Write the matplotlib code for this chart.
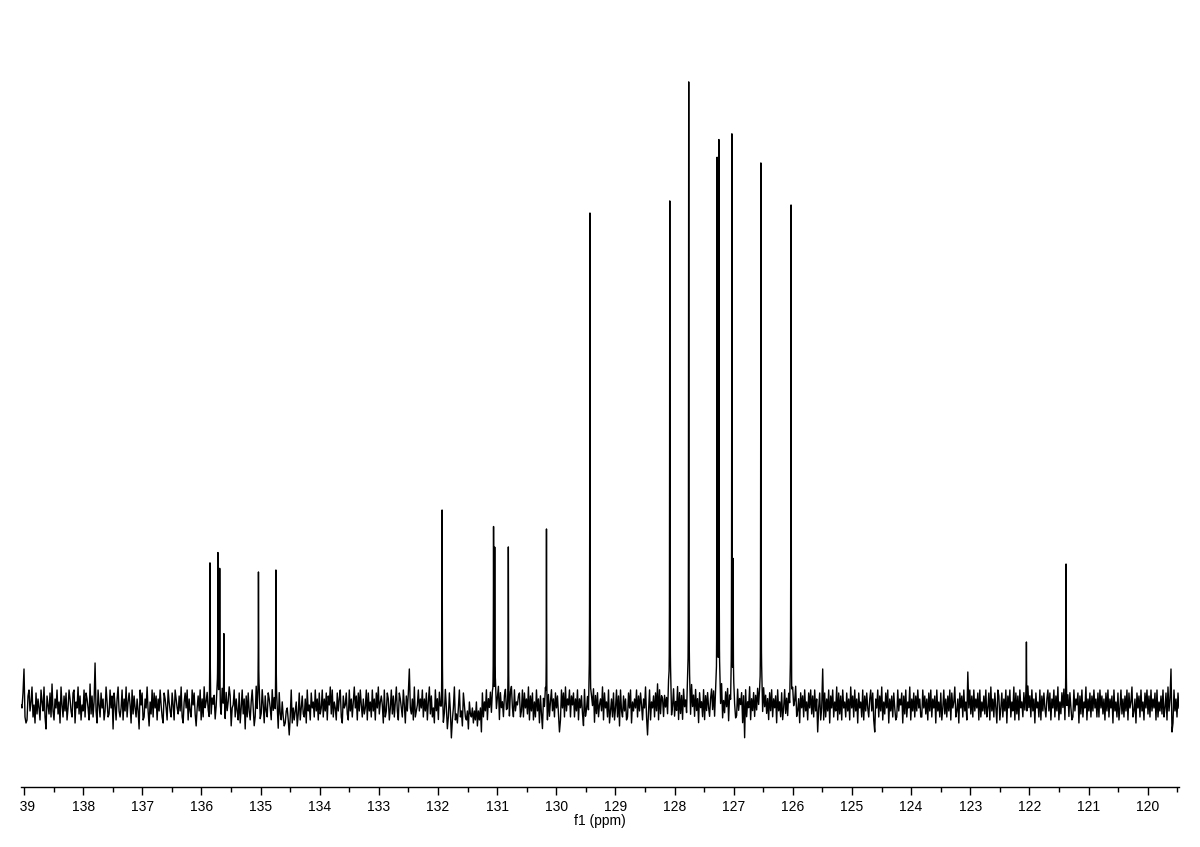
import numpy as np
import matplotlib
matplotlib.use('Agg')
import matplotlib.pyplot as plt
from matplotlib.transforms import Bbox, TransformedBbox

# peak list (ppm, height above baseline in plot units)
peak_ppm = [135.855, 135.72, 135.69, 135.62, 135.035, 134.74,
            131.93, 131.06, 131.04, 130.81, 130.165, 129.43,
            128.08, 127.76, 127.28, 127.25, 127.03, 127.01,
            126.54, 126.03, 122.05, 121.38]
peak_height = [139, 148, 132, 68, 130, 132,
               192, 172, 151, 155, 173, 489,
               501, 620, 539, 557, 565, 131,
               539, 497, 60, 138]

# baseline noise, one char per px of the trace, 'm' = zero, 3 units per step
noise_str = (
    "lkpxhfgoqjmrhlfpinkgqmjrhdoliphsjgnkqimfrlhojpgkqn"
    "jhpqfmkriogljqhpnkgsiohmzjfqlhpkngjrmhiqkodplgnrjh"
    "kqgnjrhmplfqiokhnjdqlpghnkrjemiqhpkognjqlhfpnkgqmj"
    "hplgqnkiojrhfmpkqgnjhqlpiekojqgnhrkmpjfqhnlogkqjpi"
    "hqkngpjmroeklqhnjgpfkqindohpjgmqkehrjnpgiqlfojhpnk"
    "gqjnhokdpigmhefjkgbhqfkgjmeipgkoihnfqjlgpkmhqjngpi"
    "kqhnjpgolriqhmkgpjnqhfoklpigqjnhmrkogpjqlhnikqgpjm"
    "hqjngpkrimolfqhjpngkqiohmrjgpnkhqlfojpxkingrhjlqjn"
    "kqhnjpgmriohkfqjngpkhmeiqkdhpjagkrgifkqhjeplhgjdmi"
    "hkfjgmejgkcphmjqgnkpiolhqjnrgpkmhoqjingprkhqjmloph"
    "jqhpknirgojpgmhqjnfoidnkpgeohmqjnhpkoicgqkphrjnlqh"
    "olphnjqgnkoieqhjnhpgmkqfoiphlnjrgpkmhqfjnhpgkqhoeq"
    "jhojnghpkqfmjnkqhojplgnkrhbjqgmkohpjsgqionhoknhqjp"
    "gkqhmjrgpiogqkmhpjngrkohqjnfpkmhqgojpkhnqjpgnkqhoj"
    "rgmipkqfnjohpkghqjnlpfoaqhmkrgnjphojqknhphqkoingpj"
    "qhnkofqjmhpgkqinhojqgpkmrhjnfpkohqjmgpkqiohqjnckpg"
    "kxgphnjqfokqhmjrgpiogqkmhpjngrkohqjnfpkmhqgojpkhnq"
    "jpgcnkqhojrgmipkqfnjohpkghqjnlpfoiqhmkrgnjphojqknh"
    "hqkoingpjqhnkofqjmhpgkqinhojqgpkmrhjnfpkohqjmgwkqi"
    "ohqjnkpgqhmjoiqhkpgrjnhpkfqogkphnjqfokqhmjrgpiogqk"
    "mhpjngrkohqjnfpkmhqgojpkhnqjpgnkqhojrgmipkqfnjohpk"
    "ghqjnlpfoiqhmkrgnjphojqknhphqkoingpjqhnkofqjmhpgkq"
    "inhojqgpkmrhjnfpkohqjmgpkqiohqjnkpgqhmjoiqhkpgrjnx"
    "cfqjnhpk"
)
noise_vals = [(ord(c) - ord('m')) * 3.0 for c in noise_str]

x_left, x_right = 139.05, 119.47
ticks_major = list(range(120, 140))
ticks_minor = [t + 0.5 for t in range(119, 139)]


def lorentz(x, x0, h, w=0.003):
    return h * w ** 2 / ((x - x0) ** 2 + w ** 2)


nx = np.linspace(x_left, x_right, len(noise_vals))
ny = np.array(noise_vals)

# add a fine local grid around each peak so the sticks reach their tops
xs = [nx]
for p in peak_ppm:
    xs.append(p + np.linspace(-0.012, 0.012, 25))
x = np.sort(np.concatenate(xs))[::-1]
y = np.interp(x, nx[::-1], ny[::-1])
for p, h in zip(peak_ppm, peak_height):
    amp = h - np.interp(p, nx[::-1], ny[::-1])
    y += lorentz(x, p, amp)

plt.rcParams['font.family'] = ['Liberation Sans', 'DejaVu Sans']

fig = plt.figure(figsize=(12, 8.47), dpi=100)
ax = fig.add_axes([21 / 1200, 60 / 847, 1158 / 1200, 787 / 847])
ax.plot(x, y, color='black', linewidth=1.0)

ax.set_xlim(x_left, x_right)
ax.set_ylim(-85, 702)
for side in ['top', 'left', 'right']:
    ax.spines[side].set_visible(False)
ax.spines['bottom'].set_linewidth(1.0)
ax.set_yticks([])
ax.set_xticks(ticks_major)
ax.set_xticklabels([str(t) for t in ticks_major])
ax.set_xticks(ticks_minor, minor=True)
ax.tick_params(axis='x', which='major', length=6, width=1, pad=3, labelsize=10)
ax.tick_params(axis='x', which='minor', length=3.5, width=1)
ax.set_xlabel('f1 (ppm)', fontsize=10, labelpad=0)

# the left-most label is cut at the image edge in the reference
clip = TransformedBbox(Bbox([[20 / 1200, 0], [1, 1]]), fig.transFigure)
for tick in ax.xaxis.get_major_ticks():
    tick.label1.set_clip_on(True)
    tick.label1.set_clip_box(clip)

fig.savefig('out.png', dpi=100)
